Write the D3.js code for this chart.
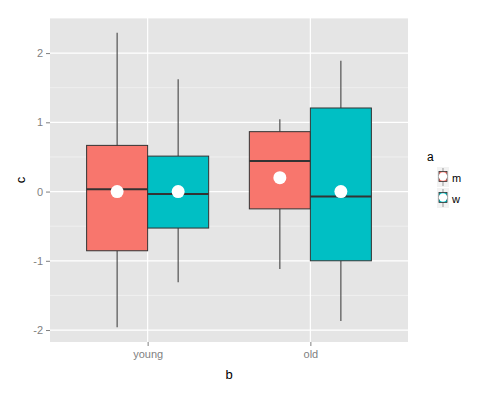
<!DOCTYPE html>
<html><head><meta charset="utf-8">
<script src="https://cdn.jsdelivr.net/npm/d3@7"></script>
<style>body{margin:0;background:#fff}svg{display:block;font-family:"Liberation Sans",Arial,sans-serif}</style>
</head><body><svg id="c" width="500" height="393"></svg>
<script>
const categories = ["young", "old"];
const groups = ["m", "w"];
const colors = ["#F8766D", "#00BFC4"];
const yTicks = [-2, -1, 0, 1, 2];
// box stats per group, aligned to categories
const lowWhisker = { m: [-1.96, -1.12], w: [-1.31, -1.87] };
const q1 = { m: [-0.855, -0.25], w: [-0.527, -1.0] };
const median = { m: [0.033, 0.44], w: [-0.034, -0.072] };
const q3 = { m: [0.667, 0.865], w: [0.512, 1.207] };
const highWhisker = { m: [2.294, 1.043], w: [1.623, 1.888] };
const means = { m: [0.0, 0.2], w: [0.0, 0.0] };

const svg = d3.select("#c");
const P = { l: 50, r: 408, t: 18, b: 342 };

const x = d3.scalePoint().domain(categories).range([P.l, P.r]).padding(0.6);
const allV = groups.flatMap(g => lowWhisker[g].concat(highWhisker[g]));
const lo = d3.min(allV), hi = d3.max(allV), ex = (hi - lo) * 0.05;
const y = d3.scaleLinear().domain([lo - ex, hi + ex]).range([P.b, P.t]);
const step = x.step();
const bw = step * 0.75 / 2;

svg.append("rect").attr("x", P.l).attr("y", P.t).attr("width", P.r - P.l).attr("height", P.b - P.t).attr("fill", "#e5e5e5");
// minor gridlines
const minor = d3.range(-2.5, 3, 1).filter(v => y(v) > P.t && y(v) < P.b);
svg.selectAll(".mn").data(minor).enter().append("line")
  .attr("x1", P.l).attr("x2", P.r).attr("y1", d => y(d)).attr("y2", d => y(d))
  .attr("stroke", "#f2f2f2").attr("stroke-width", 0.8);
svg.selectAll(".mj").data(yTicks).enter().append("line")
  .attr("x1", P.l).attr("x2", P.r).attr("y1", d => y(d)).attr("y2", d => y(d))
  .attr("stroke", "#fff").attr("stroke-width", 1.2);
svg.selectAll(".mx").data(categories).enter().append("line")
  .attr("y1", P.t).attr("y2", P.b).attr("x1", d => x(d)).attr("x2", d => x(d))
  .attr("stroke", "#fff").attr("stroke-width", 1.2);

// axes
const yAx = svg.append("g").attr("transform", `translate(${P.l},0)`)
  .call(d3.axisLeft(y).tickValues(yTicks).tickSize(4).tickPadding(3).tickFormat(d => String(d)));
const xAx = svg.append("g").attr("transform", `translate(0,${P.b})`)
  .call(d3.axisBottom(x).tickSize(4).tickPadding(4));
[yAx, xAx].forEach(a => {
  a.select(".domain").remove();
  a.selectAll("line").attr("stroke", "#7f7f7f");
  a.selectAll("text").attr("fill", "#7f7f7f").style("font-size", "11px").style("font-family", "Liberation Sans, Arial, sans-serif");
});

// boxes
groups.forEach((g, gi) => {
  categories.forEach((c, ci) => {
    const cx = x(c) + (gi === 0 ? -bw / 2 : bw / 2);
    const gg = svg.append("g");
    gg.append("line").attr("x1", cx).attr("x2", cx).attr("y1", y(highWhisker[g][ci])).attr("y2", y(q3[g][ci]))
      .attr("stroke", "#444").attr("stroke-width", 1.1);
    gg.append("line").attr("x1", cx).attr("x2", cx).attr("y1", y(q1[g][ci])).attr("y2", y(lowWhisker[g][ci]))
      .attr("stroke", "#444").attr("stroke-width", 1.1);
    gg.append("rect").attr("x", cx - bw / 2).attr("width", bw)
      .attr("y", y(q3[g][ci])).attr("height", y(q1[g][ci]) - y(q3[g][ci]))
      .attr("fill", colors[gi]).attr("stroke", "#333").attr("stroke-width", 1);
    gg.append("line").attr("x1", cx - bw / 2).attr("x2", cx + bw / 2)
      .attr("y1", y(median[g][ci])).attr("y2", y(median[g][ci]))
      .attr("stroke", "#333").attr("stroke-width", 2);
    gg.append("circle").attr("cx", cx).attr("cy", y(means[g][ci])).attr("r", 6.5).attr("fill", "#fff");
  });
});

// axis titles
svg.append("text").attr("x", (P.l + P.r) / 2).attr("y", 379).attr("text-anchor", "middle")
  .style("font-size", "13px").text("b");
svg.append("text").attr("transform", `translate(25,${(P.t + P.b) / 2}) rotate(-90)`).attr("text-anchor", "middle")
  .style("font-size", "13px").text("c");

// legend
svg.append("text").attr("x", 427).attr("y", 161).style("font-size", "12px").text("a");
groups.forEach((g, gi) => {
  const ky = 167 + gi * 21;
  const lg = svg.append("g");
  lg.append("rect").attr("x", 437).attr("y", ky).attr("width", 12).attr("height", 20).attr("fill", "#f2f2f2");
  lg.append("line").attr("x1", 443).attr("x2", 443).attr("y1", ky + 1).attr("y2", ky + 19).attr("stroke", "#999").attr("stroke-width", 1);
  lg.append("rect").attr("x", 439).attr("y", ky + 4.5).attr("width", 8).attr("height", 10)
    .attr("fill", colors[gi]).attr("stroke", "#333").attr("stroke-width", 0.8);
  lg.append("circle").attr("cx", 443).attr("cy", ky + 9.5).attr("r", 4.2).attr("fill", "#fff");
  lg.append("text").attr("x", 452).attr("y", ky + 15).style("font-size", "11px").text(g);
});
</script></body></html>
